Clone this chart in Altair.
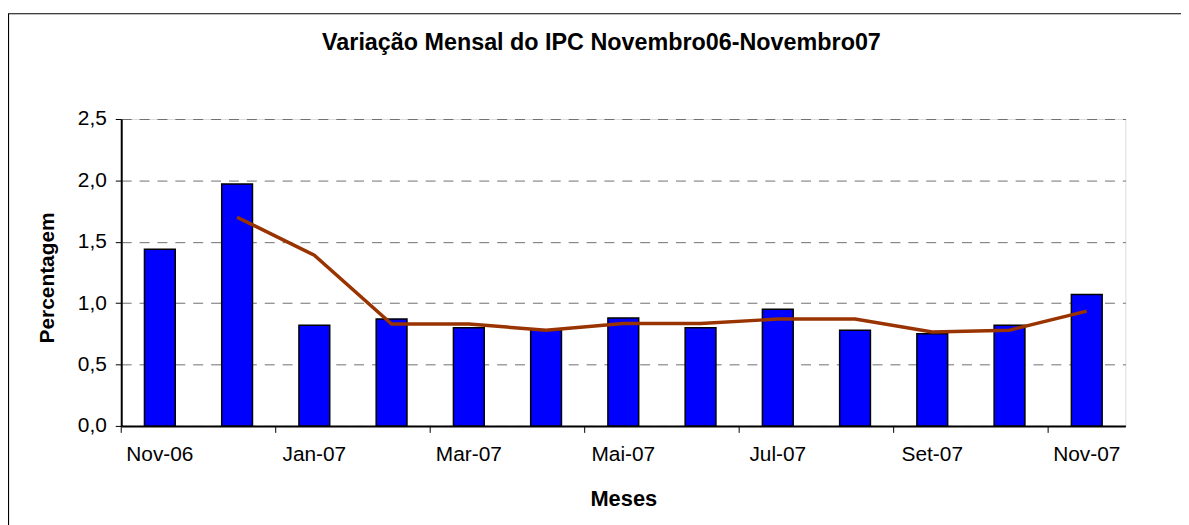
import altair as alt
import pandas as pd

meses = ["Nov-06", "Dez-06", "Jan-07", "Fev-07", "Mar-07", "Abr-07", "Mai-07",
         "Jun-07", "Jul-07", "Ago-07", "Set-07", "Out-07", "Nov-07"]
variacao = [1.44, 1.97, 0.82, 0.87, 0.80, 0.78, 0.88, 0.80, 0.95, 0.78, 0.75, 0.82, 1.07]

meses_media = meses[1:]
media = [1.70, 1.39, 0.83, 0.83, 0.78, 0.835, 0.835, 0.87, 0.87, 0.765, 0.78, 0.935]

rotulos = ["Nov-06", "Jan-07", "Mar-07", "Mai-07", "Jul-07", "Set-07", "Nov-07"]
titulo = "Variação Mensal do IPC Novembro06-Novembro07"

df_bar = pd.DataFrame({"mes": meses, "valor": variacao})
df_line = pd.DataFrame({"mes": meses_media, "valor": media})
df_ticks = pd.DataFrame({"mes": rotulos})

FONT = "Liberation Sans"
W, H = 1011, 309

xscale = alt.Scale(domain=meses, paddingInner=0, paddingOuter=0)
yscale = alt.Scale(domain=[0, 2.5], nice=False, zero=True)

xaxis = alt.Axis(
    values=rotulos, labelAngle=0, labelFont=FONT, labelFontSize=21,
    labelColor="black", labelPadding=18, ticks=False, domainColor="black",
    domainWidth=2, title="Meses", titleFont=FONT, titleFontSize=22, titleFontWeight="bold",
    titleColor="black", titleX=W / 2, titleY=80, titleAnchor="middle", titleBaseline="alphabetic",
    titleAlign="center", grid=False,
)
yaxis = alt.Axis(
    values=[0, 0.5, 1.0, 1.5, 2.0, 2.5],
    labelExpr="replace(format(datum.value, '.1f'), '.', ',')",
    labelFont=FONT, labelFontSize=21, labelColor="black", labelPadding=9, tickSize=6,
    tickColor="black", domainColor="black", domainWidth=2,
    grid=True, gridDash=[10, 8], gridColor="#707070", gridWidth=1,
    title="Percentagem", titleFont=FONT, titleFontSize=21, titleFontWeight="bold",
    titleColor="black", titleAngle=-90, titleX=-74, titleY=H / 2 + 5, titleAlign="center",
    titleBaseline="middle",
)

bars = alt.Chart(df_bar).mark_bar(
    size=31, color="#0000FF", stroke="black", strokeWidth=1.5
).encode(
    x=alt.X("mes:N", scale=xscale, axis=xaxis, sort=meses),
    y=alt.Y("valor:Q", scale=yscale, axis=yaxis),
)

line = alt.Chart(df_line).mark_line(color="#993300", strokeWidth=3.5).encode(
    x=alt.X("mes:N", scale=xscale, sort=meses),
    y=alt.Y("valor:Q", scale=yscale),
)

ticks = alt.Chart(df_ticks).mark_rule(color="black", strokeWidth=1).encode(
    x=alt.X("mes:N", scale=xscale, bandPosition=0, sort=meses),
    y=alt.value(H), y2=alt.value(H + 7),
)

frame = alt.Chart(pd.DataFrame({"k": [0]})).mark_rect(
    fill=None, stroke="black", strokeWidth=1.2
).encode(
    x=alt.value(-113.5), x2=alt.value(1080), y=alt.value(-106), y2=alt.value(420)
)

title = alt.Chart(pd.DataFrame({"t": [titulo]})).mark_text(
    font=FONT, fontSize=23.5, fontWeight="bold", color="black", align="center",
    baseline="alphabetic"
).encode(text="t:N", x=alt.value(W / 2 - 22), y=alt.value(-69))

chart = alt.layer(bars, line, ticks, frame, title).properties(
    width=W, height=H,
    autosize=alt.AutoSizeParams(type="none"),
    padding={"left": 114, "top": 110, "right": 56, "bottom": 98},
).configure_view(stroke="black", strokeWidth=2).configure(background="white")

chart.save("out.html", embed_options={"renderer": "svg", "actions": False})
